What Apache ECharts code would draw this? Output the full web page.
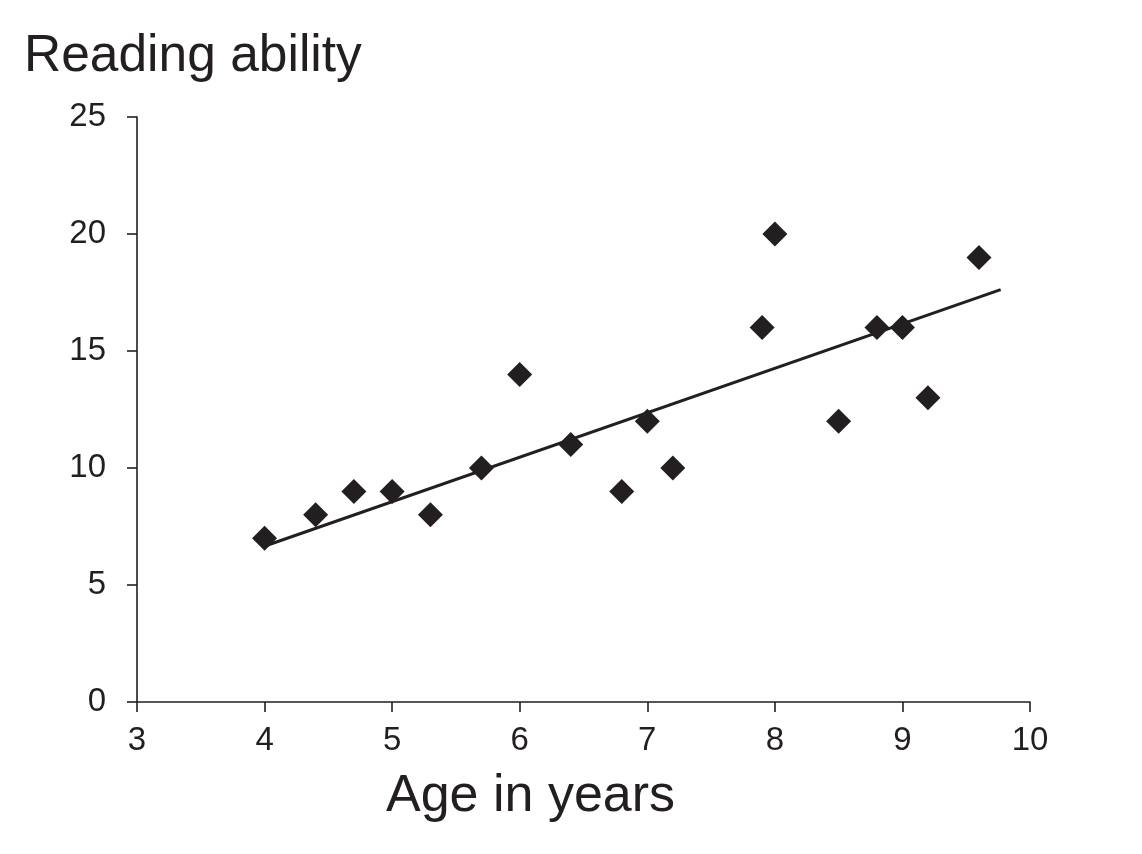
<!DOCTYPE html>
<html>
<head>
<meta charset="utf-8">
<script src="https://cdn.jsdelivr.net/npm/echarts@6/dist/echarts.min.js"></script>
<style>
html,body{margin:0;padding:0;background:#fff;}
#chart{width:1142px;height:854px;}
</style>
</head>
<body>
<div id="chart"></div>
<script>
const ageYears = [4, 4.4, 4.7, 5, 5.3, 5.7, 6, 6.4, 6.8, 7, 7.2, 7.9, 8, 8.5, 8.8, 9, 9.2, 9.6];
const readingScores = [7, 8, 9, 9, 8, 10, 14, 11, 9, 12, 10, 16, 20, 12, 16, 16, 13, 19];
const trendX = [4.02, 9.77];
const trendY = [6.7, 17.62];
const yTitle = 'Reading ability';
const xTitle = 'Age in years';

const ink = '#231f20';
const font = '"Liberation Sans", Arial, Helvetica, sans-serif';

const chart = echarts.init(document.getElementById('chart'), null, {renderer: 'canvas'});
chart.setOption({
  animation: false,
  backgroundColor: '#fff',
  title: {
    text: yTitle,
    left: 19,
    top: 26,
    textStyle: {color: ink, fontFamily: font, fontSize: 51.5, fontWeight: 'normal'}
  },
  graphic: [{
    type: 'text',
    left: 386,
    top: 771,
    style: {text: xTitle, fill: ink, font: '52px ' + font}
  }],
  grid: {left: 137, right: 112, top: 117, bottom: 152, containLabel: false},
  xAxis: {
    type: 'value',
    min: 3, max: 10, interval: 1,
    axisLine: {show: true, onZero: false, lineStyle: {color: ink, width: 1.6}},
    axisTick: {show: true, length: 10, lineStyle: {color: ink, width: 1.6}},
    axisLabel: {color: ink, fontFamily: font, fontSize: 33, margin: 22},
    splitLine: {show: false}
  },
  yAxis: {
    type: 'value',
    min: 0, max: 25, interval: 5,
    axisLine: {show: true, lineStyle: {color: ink, width: 1.6}},
    axisTick: {show: true, length: 10, lineStyle: {color: ink, width: 1.6}},
    axisLabel: {color: ink, fontFamily: font, fontSize: 33, margin: 31},
    splitLine: {show: false}
  },
  series: [
    {
      type: 'line',
      data: trendX.map((x, i) => [x, trendY[i]]),
      showSymbol: false,
      symbol: 'none',
      lineStyle: {color: ink, width: 3},
      z: 2
    },
    {
      type: 'scatter',
      data: ageYears.map((x, i) => [x, readingScores[i]]),
      symbol: 'diamond',
      symbolSize: 25,
      itemStyle: {color: ink, opacity: 1},
      z: 3
    }
  ]
});
</script>
</body>
</html>
